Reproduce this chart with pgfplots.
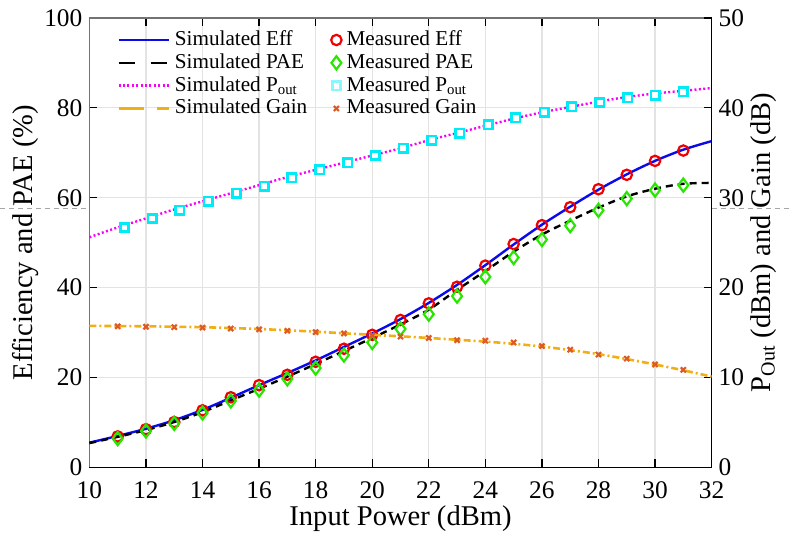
\documentclass[border=0pt]{standalone}
\usepackage{fontspec}
\setmainfont{Liberation Serif}
\usepackage{pgfplots}
\pgfplotsset{compat=1.18}
\definecolor{simeff}{RGB}{10,10,235}
\definecolor{simpout}{RGB}{250,0,250}
\definecolor{simgain}{RGB}{240,175,20}
\definecolor{meff}{RGB}{240,0,0}
\definecolor{mpae}{RGB}{40,230,0}
\definecolor{mpout}{RGB}{0,235,245}
\definecolor{mgain}{RGB}{222,90,35}
\pgfplotsset{
  mylinelegend/.style={legend image code/.code={\draw[##1] (0pt,0pt) -- (25pt,0pt);}},
  mymarklegend/.style={legend image code/.code={\draw[mark repeat=2,mark phase=2,##1] plot coordinates {(0cm,0cm) (0.1cm,0cm) (0.2cm,0cm)};}},
}
\begin{document}
\begin{tikzpicture}
\begin{axis}[
  scale only axis, width=311.5pt, height=225pt,
  xmin=10, xmax=32, ymin=0, ymax=100,
  xtick={10,12,...,32}, ytick={0,20,...,100},
  ytick pos=left,
  grid=major, grid style={draw=black!11, line width=0.6pt},
  axis line style={draw=black!55, line width=0.6pt},
  tick style={black, line width=0.6pt},
  major tick length=4pt, tick align=inside,
  clip=false,
  /pgf/number format/assume math mode=true,
  tick label style={font=\fontsize{12.7}{14}\selectfont},
  xticklabel style={yshift=-3.5pt},
  label style={font=\fontsize{14.3}{16}\selectfont},
  xlabel={Input Power (dBm)},
  ylabel={Efficiency and PAE (\%)},
  xlabel style={at={(rel axis cs:0.5,-0.113)}, anchor=center},
  ylabel style={at={(rel axis cs:-0.103,0.5)}, anchor=center},
]
\path (rel axis cs:-0.1429,-0.1644) rectangle (rel axis cs:1.1236,1.04);
\draw[black!35, dash pattern=on 2.5pt off 2pt, line width=0.5pt] (rel axis cs:-0.1429,0.5756) -- (rel axis cs:0,0.5756);
\draw[black!35, dash pattern=on 2.5pt off 2pt, line width=0.5pt] (rel axis cs:1,0.5756) -- (rel axis cs:1.1236,0.5756);
% Simulated Eff
\addplot[simeff, line width=1.2pt, smooth, no markers] coordinates {
(10,5.5) (11,7.0) (12,8.6) (13,10.5) (14,12.8) (15,15.5) (16,18.3) (17,21.0) (18,23.8) (19,26.8) (20,29.8) (21,33.0) (22,36.6) (23,40.6) (24,45.0) (25,49.6) (26,54.0) (27,58.0) (28,61.8) (29,65.2) (30,68.2) (31,70.7) (32,72.6)};
% Simulated PAE
\addplot[black, line width=1.2pt, smooth, no markers, dash pattern=on 3.5pt off 2.5pt] coordinates {
(10,5.4) (11,6.8) (12,8.3) (13,10.1) (14,12.3) (15,14.9) (16,17.5) (17,20.2) (18,23.0) (19,25.9) (20,28.8) (21,31.8) (22,35.1) (23,39.5) (24,43.7) (25,48.0) (26,51.8) (27,54.9) (28,57.8) (29,60.3) (30,62.0) (31,63.1) (32,63.3)};
% Measured Eff
\addplot[only marks, mark=o, mark size=2.6pt, mark options={draw=meff, line width=1.1pt}] coordinates {
(11,6.9) (12,8.5) (13,10.1) (14,12.7) (15,15.6) (16,18.3) (17,20.6) (18,23.5) (19,26.4) (20,29.5) (21,32.8) (22,36.5) (23,40.2) (24,44.9) (25,49.7) (26,53.9) (27,57.9) (28,61.9) (29,65.1) (30,68.2) (31,70.5)};
% Measured PAE
\addplot[only marks, mark=diamond, mark size=3.3pt, mark options={draw=mpae, line width=1.1pt}] coordinates {
(11,6.4) (12,8.1) (13,9.8) (14,12.1) (15,14.8) (16,17.2) (17,19.7) (18,22.1) (19,25.0) (20,27.8) (21,30.8) (22,34.1) (23,38.1) (24,42.4) (25,46.7) (26,50.7) (27,53.8) (28,57.2) (29,59.8) (30,61.7) (31,62.8)};
\end{axis}
\begin{axis}[
  scale only axis, width=311.5pt, height=225pt,
  xmin=10, xmax=32, ymin=0, ymax=50,
  axis x line*=bottom, axis y line*=right,
  xtick=\empty, ytick={0,10,...,50},
  axis line style={draw=black, line width=0.6pt},
  tick style={black, line width=0.6pt},
  major tick length=4pt, tick align=inside,
  /pgf/number format/assume math mode=true,
  tick label style={font=\fontsize{12.7}{14}\selectfont},
  label style={font=\fontsize{14.3}{16}\selectfont},
  ylabel={P\textsubscript{Out} (dBm) and Gain (dB)},
  ylabel style={at={(rel axis cs:1.0835,0.5)}, anchor=center},
  legend columns=2,
  legend cell align=left,
  legend style={draw=none, fill=none, inner sep=0pt, outer sep=0pt,
    at={(0.045,0.975)}, anchor=north west,
    font=\fontsize{10.6}{12}\selectfont, row sep=0.63pt,
    nodes={inner xsep=2.5pt, inner ysep=0.8pt, text height=7.3pt, text depth=1.9pt},
    /tikz/every even column/.append style={column sep=9.5pt}},
]
% Simulated Pout
\addplot[simpout, line width=1.2pt, smooth, no markers, dash pattern=on 1pt off 1.2pt, forget plot] coordinates {
(10,25.6) (11,26.7) (12,27.7) (13,28.7) (14,29.6) (15,30.5) (16,31.4) (17,32.3) (18,33.1) (19,33.9) (20,34.7) (21,35.5) (22,36.4) (23,37.2) (24,38.0) (25,38.8) (26,39.5) (27,40.1) (28,40.7) (29,41.2) (30,41.6) (31,41.9) (32,42.2)};
% Simulated Gain
\addplot[simgain, line width=1.3pt, smooth, no markers, dash pattern=on 3.5pt off 1.5pt on 1pt off 1.5pt, forget plot] coordinates {
(10,15.75) (11,15.72) (12,15.7) (13,15.65) (14,15.6) (15,15.5) (16,15.4) (17,15.25) (18,15.1) (19,14.92) (20,14.75) (21,14.58) (22,14.4) (23,14.2) (24,14.0) (25,13.75) (26,13.45) (27,13.05) (28,12.6) (29,12.05) (30,11.45) (31,10.8) (32,10.1)};
% Measured Pout
\addplot[only marks, mark=square*, mark size=2.1pt, mark options={draw=mpout, fill=white, line width=1.3pt}, forget plot] coordinates {
(11.24,26.7) (12.22,27.7) (13.2,28.6) (14.2,29.6) (15.2,30.5) (16.18,31.3) (17.16,32.2) (18.14,33.1) (19.13,33.9) (20.1,34.7) (21.1,35.5) (22.1,36.4) (23.1,37.2) (24.1,38.1) (25.08,38.9) (26.08,39.5) (27.06,40.1) (28.04,40.6) (29.03,41.1) (30.0,41.4) (31.0,41.8)};
% Measured Gain
\addplot[only marks, mark=x, mark size=1.8pt, mark options={draw=mgain, line width=1.1pt}, forget plot] coordinates {
(11,15.7) (12,15.65) (13,15.6) (14,15.55) (15,15.45) (16,15.35) (17,15.2) (18,15.05) (19,14.9) (20,14.7) (21,14.55) (22,14.4) (23,14.15) (24,14.1) (25,13.9) (26,13.5) (27,13.1) (28,12.55) (29,12.1) (30,11.45) (31,10.85)};
% legend
\addlegendimage{simeff, line width=1.2pt, mylinelegend}
\addlegendentry{Simulated Eff}
\addlegendimage{only marks, mark=o, mark size=2.6pt, mark options={draw=meff, line width=1.1pt}, mymarklegend}
\addlegendentry{Measured Eff}
\addlegendimage{black, line width=1.2pt, dash pattern=on 8pt off 8pt, mylinelegend}
\addlegendentry{Simulated PAE}
\addlegendimage{only marks, mark=diamond, mark size=3.3pt, mark options={draw=mpae, line width=1.1pt}, mymarklegend}
\addlegendentry{Measured PAE}
\addlegendimage{simpout, line width=1.2pt, dash pattern=on 1pt off 1.2pt, mylinelegend}
\addlegendentry{Simulated P\textsubscript{out}}
\addlegendimage{only marks, mark=square*, mark size=2.1pt, mark options={draw=mpout!45, fill=white, line width=1.3pt}, mymarklegend}
\addlegendentry{Measured P\textsubscript{out}}
\addlegendimage{simgain, line width=1.3pt, dash pattern=on 12.5pt off 6.5pt on 6pt off 10pt, mylinelegend}
\addlegendentry{Simulated Gain}
\addlegendimage{only marks, mark=x, mark size=1.8pt, mark options={draw=mgain, line width=1.1pt}, mymarklegend}
\addlegendentry{Measured Gain}
\end{axis}
\end{tikzpicture}
\end{document}
